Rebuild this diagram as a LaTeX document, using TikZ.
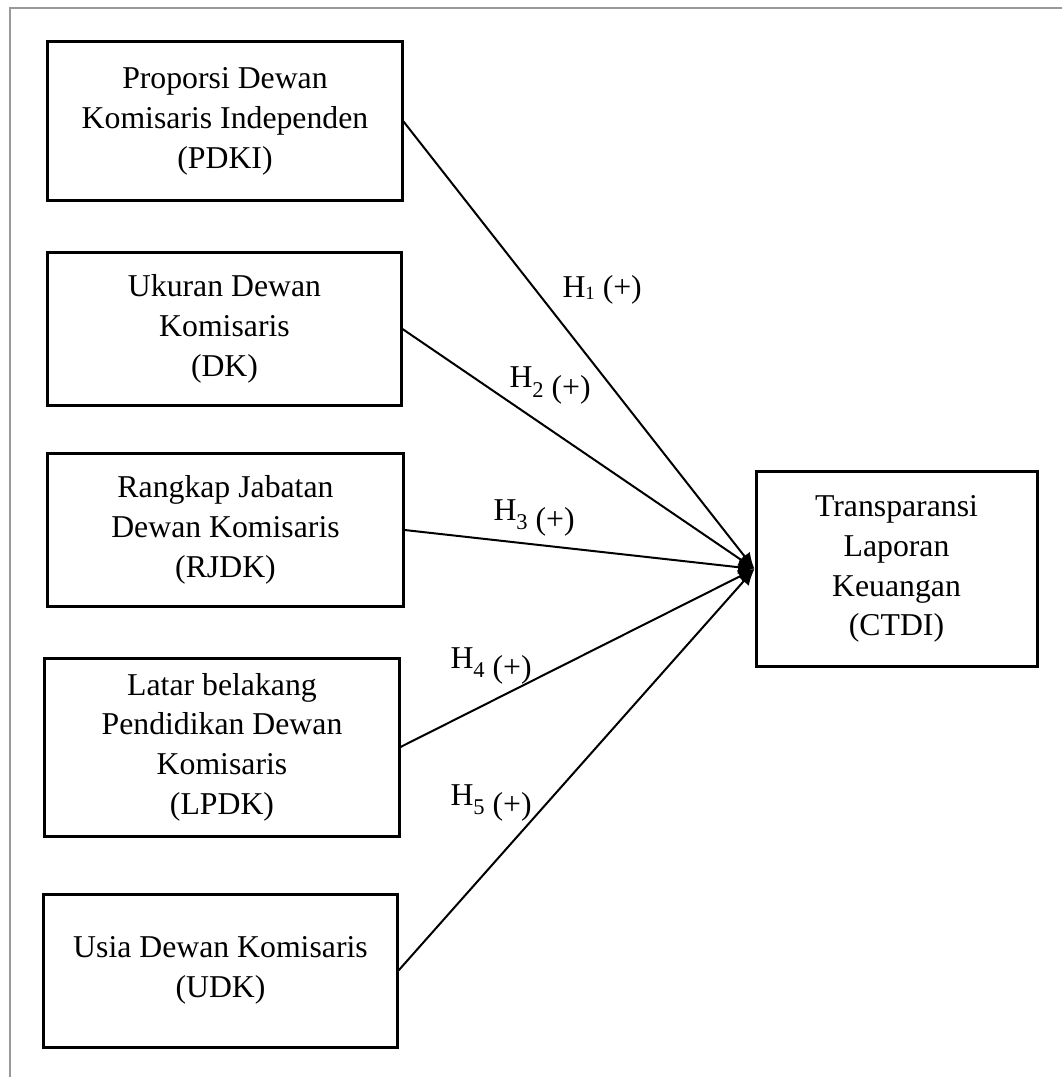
\documentclass[tikz,border=0pt]{standalone}
\usepackage{fontspec}
\setmainfont{Liberation Serif}
\usetikzlibrary{arrows.meta}

\newcommand\Hlow[1]{H\raisebox{-3.6pt}{{\fontsize{9}{9}\selectfont #1}\ (+)}}

\begin{document}
\begin{tikzpicture}[x=0.4pt, y=-0.4pt,
    box/.style={draw, line width=1.2pt, align=center, inner sep=0pt,
        font=\fontsize{12.7}{15.9}\selectfont},
    hyp/.style={anchor=base west, inner sep=0pt, font=\fontsize{12.7}{14}\selectfont},
    link/.style={line width=0.8pt, -{Latex[length=6.5pt, width=5.5pt]}}]

        %
        \useasboundingbox (0,0) rectangle (1062,1077);
        \draw[gray!80, line width=0.5pt] (1062,8) -- (10,8) -- (10,1077);

        %
        \node[box, minimum width=141.6pt, minimum height=63.6pt] (PDKI) at (225,121.5)
            {Proporsi Dewan\\Komisaris Independen\\(PDKI)};
        \node[box, minimum width=141.2pt, minimum height=60.8pt] (DK) at (224.5,329)
            {Ukuran Dewan\\Komisaris\\(DK)};
        \node[box, minimum width=142pt, minimum height=60.8pt] (RJDK) at (225.5,530)
            {Rangkap Jabatan\\Dewan Komisaris\\(RJDK)};
        \node[box, minimum width=141.6pt, minimum height=71.2pt] (LPDK) at (222,747)
            {Latar belakang\\Pendidikan Dewan\\Komisaris\\(LPDK)};
        \node[box, minimum width=141.2pt, minimum height=61.2pt] (UDK) at (220.5,970.5)
            {Usia Dewan Komisaris\\(UDK)};

        %
        \node[box, minimum width=112.4pt, minimum height=77.6pt] (CTDI) at (896.5,569)
            {Transparansi\\Laporan\\Keuangan\\(CTDI)};

        %
        \draw[link] (PDKI.east) -- (CTDI.west);
        \draw[link] (DK.east) -- (CTDI.west);
        \draw[link] (RJDK.east) -- (CTDI.west);
        \draw[link] (LPDK.east) -- (CTDI.west);
        \draw[link] (UDK.east) -- (CTDI.west);

        %
        \node[hyp] (H1) at (562,298) {H\raisebox{-0.5pt}{\fontsize{7.5}{7.5}\selectfont 1}\ (+)};
        \node[hyp] (H2) at (509,388) {\Hlow{2}};
        \node[hyp] (H3) at (493,520) {\Hlow{3}};
        \node[hyp] (H4) at (450,668) {\Hlow{4}};
        \node[hyp] (H5) at (450,805) {\Hlow{5}};

    \end{tikzpicture}
\end{document}
